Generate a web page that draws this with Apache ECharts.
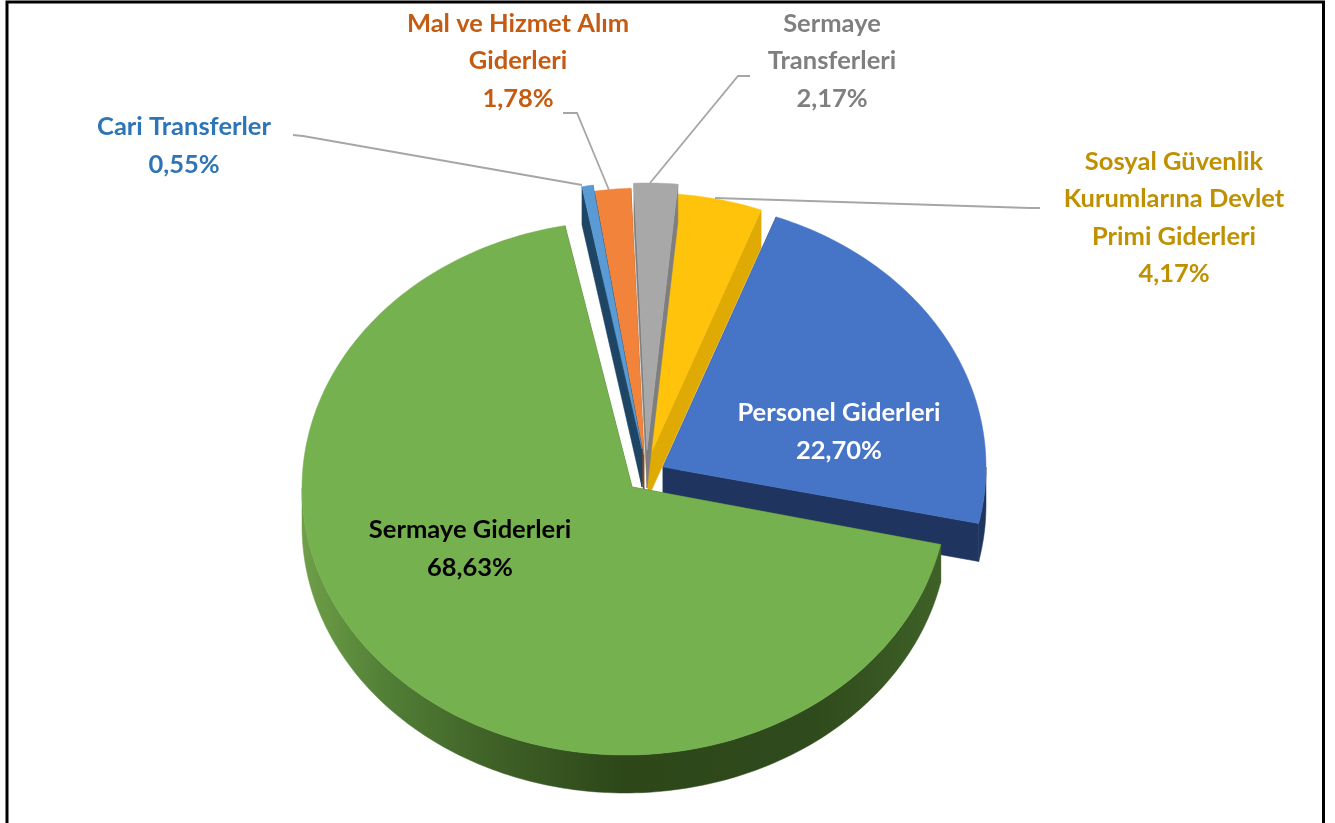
<!DOCTYPE html>
<html><head><meta charset="utf-8">
<style>html,body{margin:0;padding:0;background:#fff}#c{width:1335px;height:823px}</style>
<script src="https://cdn.jsdelivr.net/npm/echarts@6/dist/echarts.min.js"></script>
</head><body><div id="c"></div>
<script>
// ---- data ----
var categories = ['Personel Giderleri','Sermaye Giderleri','Cari Transferler','Mal ve Hizmet Alım Giderleri','Sermaye Transferleri','Sosyal Güvenlik Kurumlarına Devlet Primi Giderleri'];
var values = [22.70,68.63,0.55,1.78,2.17,4.17];
// ---- styling and layout, by slice ----
var labelLines = ['Personel Giderleri','Sermaye Giderleri','Cari Transferler','Mal ve Hizmet Alım\nGiderleri','Sermaye\nTransferleri','Sosyal Güvenlik\nKurumlarına Devlet\nPrimi Giderleri'];
var faceColors = ['#4674c6','#76b150','#5b9bd5','#f1843a','#a8a8a8','#ffc30b'];
var wallColors = ['#1f3560','#3a5a24','#1f4564','#8a4a1a','#7e7e7e','#e0aa05'];
var labelColors = ['#ffffff','#000000','#2e75b6','#c55a11','#7f7f7f','#bf9000'];
var apexX = [663,632,642,644,647,648];
var apexY = [467,487,449,455,450,460];
var ellipseX = [663,625,642,644,647,648];
var ellipseY = [467,488,449,455,450,460];
var labelX = [839,470,184,518,832,1174];
var labelY = [432,549,146,61,61,218];
var layerRank = [7,8,3,2,5,4];
var leaders = [null,null,
  [[293,135],[303,136],[582,185]],
  [[563,113],[577,113],[609,190]],
  [[750,76],[738,76],[650,183]],
  [[1040,208],[1030,208],[715,198]]];
var firstAngle = 20.5, RX = 323, RY = 267, DEPTH = 38;

var total = values.reduce(function(a,b){return a+b;},0);
var startAngles = [], acc = firstAngle;
values.forEach(function(v){ startAngles.push(acc); acc += v/total*360; });

function pt(i,deg,dy){
  var r = deg*Math.PI/180;
  return [ellipseX[i]+RX*Math.sin(r), ellipseY[i]-RY*Math.cos(r)+(dy||0)];
}
function arc(i,a,b,dy){
  var pts=[], n=Math.max(2,Math.ceil(Math.abs(b-a)));
  for(var k=0;k<=n;k++) pts.push(pt(i,a+(b-a)*k/n,dy));
  return pts;
}
function poly(points,fill,z){
  return {type:'polygon',z2:z,shape:{points:points},style:{fill:fill,stroke:fill,lineWidth:0.5}};
}
function wallFill(i){
  if(i!==1) return wallColors[i];
  return new echarts.graphic.LinearGradient(0,0,1,0,[
    {offset:0,color:'#6f9f49'},{offset:0.13,color:'#527f36'},{offset:0.3,color:'#3f6127'},
    {offset:0.5,color:'#2d4719'},{offset:0.8,color:'#2f4a1c'},{offset:1,color:'#3f6127'}]);
}
function renderSlice(params,api){
  var i=params.dataIndex, a=startAngles[i], b=a+api.value(0)/total*360;
  var z=layerRank[i]*10, c=[apexX[i],apexY[i]], kids=[];
  var c2=[c[0],c[1]+DEPTH], pa=pt(i,a), pb=pt(i,b);
  // the two cut walls
  kids.push(poly([c,pa,[pa[0],pa[1]+DEPTH],c2],wallColors[i],z));
  kids.push(poly([c,pb,[pb[0],pb[1]+DEPTH],c2],wallColors[i],z));
  // the outer wall on the part of the rim facing the viewer
  var lo=Math.max(a,90), hi=Math.min(b,270);
  if(hi>lo){
    kids.push(poly(arc(i,lo,hi,0).concat(arc(i,hi,lo,DEPTH)),wallFill(i),z+1));
  }
  kids.push(poly([c].concat(arc(i,a,b,0)),faceColors[i],z+2));
  return {type:'group',children:kids};
}
function pctText(v){ return v.toFixed(2).replace('.',',')+'%'; }
function renderLabel(params,api){
  var i=params.dataIndex, kids=[];
  if(leaders[i]) kids.push({type:'polyline',z2:200,shape:{points:leaders[i]},style:{fill:null,stroke:'#a6a6a6',lineWidth:1.8}});
  kids.push({type:'text',z2:201,style:{x:labelX[i],y:labelY[i],text:labelLines[i]+'\n'+pctText(api.value(0)),
    fill:labelColors[i],font:'bold 25.5px Lato',lineHeight:37.5,textAlign:'center',textVerticalAlign:'middle'}});
  return {type:'group',children:kids};
}
var chart = echarts.init(document.getElementById('c'),null,{renderer:'canvas'});
var rows = values.map(function(v,i){return {name:categories[i],value:[v]};});
chart.setOption({
  animation:false,
  backgroundColor:'#ffffff',
  graphic:[{type:'rect',shape:{x:7,y:2,width:1316.5,height:900},style:{fill:null,stroke:'#000',lineWidth:3}}],
  series:[
    {type:'custom',coordinateSystem:'none',renderItem:renderSlice,data:rows,silent:true,z:2},
    {type:'custom',coordinateSystem:'none',renderItem:renderLabel,data:rows,silent:true,z:3}
  ]
});
</script></body></html>
